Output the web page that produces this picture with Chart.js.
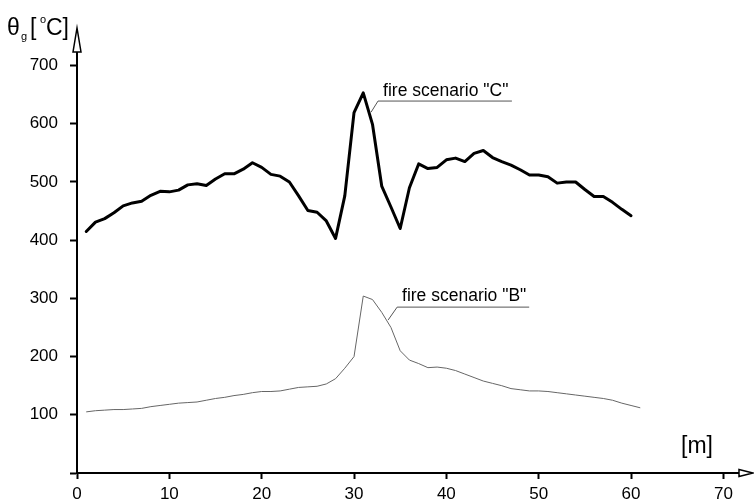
<!DOCTYPE html>
<html>
<head>
<meta charset="utf-8">
<script src="https://cdn.jsdelivr.net/npm/chart.js@4.4.1/dist/chart.umd.min.js"></script>
<style>
  html, body { margin: 0; padding: 0; background: #fff; }
  canvas { display: block; }
</style>
</head>
<body>
<canvas id="c" width="754" height="504"></canvas>
<script>
// ---- data ----
const distC = [1,2,3,4,5,6,7,8,9,10,11,12,13,14,15,16,17,18,19,20,21,22,23,24,25,26,27,28,29,30,31,32,33,34,35,36,37,38,39,40,41,42,43,44,45,46,47,48,49,50,51,52,53,54,55,56,57,58,59,60];
const tempC = [415,431,437,447,459,464,467,477,484,483,486,495,497,494,505,514,514,522,533,525,513,510,500,476,451,448,433,403,476,619,653,599,493,457,420,490,531,523,525,538,541,535,549,554,542,535,529,521,512,512,509,498,500,500,487,475,475,465,453,442];
const distB = [1,2,3,4,5,6,7,8,9,10,11,12,13,14,15,16,17,18,19,20,21,22,23,24,25,26,27,28,29,30,31,32,33,34,35,36,37,38,39,40,41,42,43,44,45,46,47,48,49,50,51,52,53,54,55,56,57,58,59,60,61];
const tempB = [105,107,108,109,109,110,111,114,116,118,120,121,122,125,128,130,133,135,138,140,140,141,144,147,148,149,153,162,180,200,304,298,276,250,210,194,188,181,182,180,176,170,164,158,154,150,145,143,141,141,140,138,136,134,132,130,128,125,120,116,112];
const xTicks = [0,10,20,30,40,50,60,70];
const yTicks = [0,100,200,300,400,500,600,700];
const seriesNames = ['fire scenario "C"', 'fire scenario "B"'];

// ---- label placement (data units) ----
const callouts = [
  { text: seriesNames[0], tip: [31.85, 620], elbow: [32.6, 639], end: 47.1, textAt: [33.15, 648] },
  { text: seriesNames[1], tip: [33.7, 263], elbow: [34.67, 285], end: 48.97, textAt: [35.2, 295.5] }
];

const toXY = (xs, ys) => xs.map((x, i) => ({ x: x, y: ys[i] }));

const FONT = '"Liberation Sans", Arial, sans-serif';

const decor = {
  id: 'decor',
  afterDraw(chart) {
    const ctx = chart.ctx;
    const xs = chart.scales.x, ys = chart.scales.y;
    const ca = chart.chartArea;
    ctx.save();
    // arrows
    ctx.lineWidth = 1.5;
    ctx.strokeStyle = '#000';
    ctx.fillStyle = '#fff';
    const ay = ys.getPixelForValue(0);
    ctx.beginPath();
    ctx.moveTo(ca.right - 1, ay - 3.5);
    ctx.lineTo(753, ay);
    ctx.lineTo(ca.right - 1, ay + 3.5);
    ctx.closePath();
    ctx.fill(); ctx.stroke();
    const ax = xs.getPixelForValue(0);
    ctx.beginPath();
    ctx.moveTo(ax - 4, ca.top + 1);
    ctx.lineTo(ax, 28);
    ctx.lineTo(ax + 4, ca.top + 1);
    ctx.closePath();
    ctx.fill(); ctx.stroke();

    // callouts
    ctx.strokeStyle = '#555';
    ctx.lineWidth = 1;
    ctx.fillStyle = '#000';
    ctx.font = '17.5px ' + FONT;
    ctx.textBaseline = 'alphabetic';
    ctx.textAlign = 'left';
    callouts.forEach(c => {
      ctx.beginPath();
      ctx.moveTo(xs.getPixelForValue(c.tip[0]), ys.getPixelForValue(c.tip[1]));
      ctx.lineTo(xs.getPixelForValue(c.elbow[0]), ys.getPixelForValue(c.elbow[1]));
      ctx.lineTo(xs.getPixelForValue(c.end), ys.getPixelForValue(c.elbow[1]));
      ctx.stroke();
      ctx.fillText(c.text, xs.getPixelForValue(c.textAt[0]), ys.getPixelForValue(c.textAt[1]));
    });

    // axis titles
    ctx.fillStyle = '#000';
    ctx.font = '23px ' + FONT;
    ctx.fillText('θ', 7, 35);
    ctx.font = '11px ' + FONT;
    ctx.fillText('g', 21, 40);
    ctx.font = '23px ' + FONT;
    ctx.fillText('[', 30, 35);
    ctx.font = '11px ' + FONT;
    ctx.fillText('o', 40, 23);
    ctx.font = '23px ' + FONT;
    ctx.fillText('C]', 46, 35);
    ctx.fillText('[m]', 681, 453);
    ctx.restore();
  }
};

new Chart(document.getElementById('c'), {
  type: 'line',
  data: {
    datasets: [
      { label: seriesNames[0], data: toXY(distC, tempC), borderColor: '#000', borderWidth: 3, pointRadius: 0, fill: false, tension: 0, borderJoinStyle: 'round', borderCapStyle: 'round' },
      { label: seriesNames[1], data: toXY(distB, tempB), borderColor: '#666', borderWidth: 1, pointRadius: 0, fill: false, tension: 0 }
    ]
  },
  options: {
    responsive: false,
    animation: false,
    devicePixelRatio: 1,
    layout: { padding: { top: 51, right: 14, left: 0, bottom: 0 } },
    plugins: { legend: { display: false }, tooltip: { enabled: false } },
    scales: {
      x: {
        type: 'linear',
        min: 0, max: 71.8,
        afterBuildTicks: a => { a.ticks = xTicks.map(v => ({ value: v })); },
        afterFit: a => { a.height = 31; },
        border: { display: true, color: '#000', width: 2 },
        grid: { display: true, drawOnChartArea: false, drawTicks: true, tickLength: 6, tickWidth: 2, tickColor: '#000' },
        ticks: { color: '#000', font: { family: FONT, size: 17 }, padding: 5, maxRotation: 0, autoSkip: false }
      },
      y: {
        type: 'linear',
        min: 0, max: 725,
        afterBuildTicks: a => { a.ticks = yTicks.map(v => ({ value: v })); },
        afterFit: a => { a.width = 77; },
        border: { display: true, color: '#000', width: 2 },
        grid: { display: true, drawOnChartArea: false, drawTicks: true, tickLength: 7, tickWidth: 2, tickColor: '#000' },
        ticks: { color: '#000', font: { family: FONT, size: 17 }, padding: 12, autoSkip: false, callback: v => (v === 0 ? '' : String(v)) }
      }
    }
  },
  plugins: [decor]
});
</script>
</body>
</html>
